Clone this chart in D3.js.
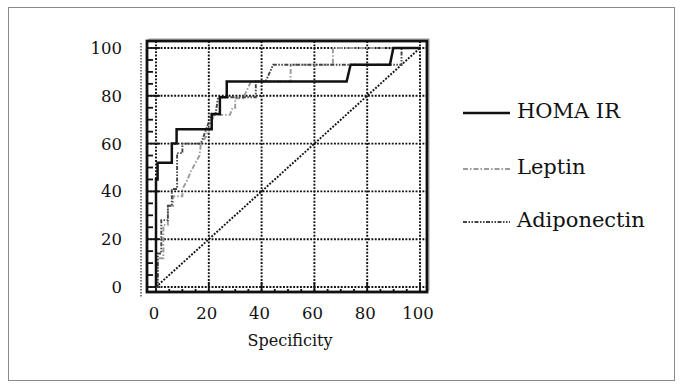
<!DOCTYPE html>
<html>
<head>
<meta charset="utf-8">
<script src="https://cdn.jsdelivr.net/npm/d3@7"></script>
<style>
  body { margin: 0; background: #fff; }
  text { font-family: "DejaVu Serif", "Liberation Serif", serif; fill: #111; }
</style>
</head>
<body>
<script>
// ROC curves, points are [100 - specificity axis value, sensitivity]
const homaIR = [[0,0],[0,45],[0.6,45],[0.6,52],[6,52],[6,60],[7.8,60],[7.8,66],[21.1,66],[21.1,72.4],
  [24.2,72.4],[24.2,79.4],[26.8,79.4],[26.8,86],[72.2,86],[73.7,93],[88.6,93],[89.9,100],[100,100]];
const leptin = [[0,0],[0.6,0],[0.6,12],[2.8,12],[2.8,26],[4.5,26],[4.5,34],[6.5,34],[6.5,38],[10,38],
  [10,41],[12,45],[13,48],[15,52],[16.5,55],[17,60],[19,63],[20,66],[21,69],[22,72],[28,72],[29,75],
  [30,75],[30,79],[33,79],[36,86],[51,86],[51,93],[67,93],[67,100],[100,100]];
const adiponectin = [[0,0],[0.7,0],[0.7,14],[2,14],[2,28],[4.5,28],[4.5,34],[6,34],[6,41],[8,41],
  [8,56],[10,56],[10,60],[17,60],[19,66],[21,72],[22.5,72],[23.5,79.4],[37.8,79.4],[37.8,86],
  [41.5,86],[44.4,93],[93,93],[93,100],[100,100]];

const seriesNames = ["HOMA IR", "Leptin", "Adiponectin"];
const xTicks = [0, 20, 40, 60, 80, 100];
const yTicks = [0, 20, 40, 60, 80, 100];
const minorTicks = d3.range(0, 101, 5);
const xTitle = "Specificity";

const width = 682, height = 387;

const svg = d3.select("body").append("svg")
  .attr("width", width)
  .attr("height", height);

// outer border
svg.append("rect")
  .attr("x", 8.5).attr("y", 7.5)
  .attr("width", 666).attr("height", 373)
  .attr("fill", "none")
  .attr("stroke", "#8a8a8a")
  .attr("stroke-width", 1);

let x = d3.scaleLinear().domain([0, 100]).range([156, 420]);
let y = d3.scaleLinear().domain([0, 100]).range([287, 48]);

let frame = { x0: x(0) - 9, x1: x(100) + 7, y0: y(100) - 7, y1: y(0) + 5 };

// frame shadow + dotted line at left
svg.append("rect")
  .attr("x", frame.x0 + 2).attr("y", frame.y0 - 2)
  .attr("width", frame.x1 - frame.x0).attr("height", frame.y1 - frame.y0)
  .attr("fill", "none")
  .attr("stroke", "#999")
  .attr("stroke-width", 1);

svg.append("line")
  .attr("x1", frame.x0 - 6).attr("x2", frame.x0 - 6)
  .attr("y1", frame.y0 + 2).attr("y2", frame.y1 + 5)
  .attr("stroke", "#555")
  .attr("stroke-width", 1.5)
  .attr("stroke-dasharray", "1.5,1.5");

svg.append("rect")
  .attr("x", frame.x0).attr("y", frame.y0)
  .attr("width", frame.x1 - frame.x0).attr("height", frame.y1 - frame.y0)
  .attr("fill", "#fff");

// dotted grid
const dotted = sel => sel
  .attr("stroke", "#111")
  .attr("stroke-width", 1.9)
  .attr("stroke-dasharray", "1.9,1.5")
  .attr("fill", "none");

svg.selectAll(".vgrid")
  .data(xTicks)
  .join("line")
  .attr("class", "vgrid")
  .attr("x1", d => x(d)).attr("x2", d => x(d))
  .attr("y1", frame.y0).attr("y2", frame.y1)
  .call(dotted);

svg.selectAll(".hgrid")
  .data(yTicks)
  .join("line")
  .attr("class", "hgrid")
  .attr("x1", frame.x0).attr("x2", frame.x1)
  .attr("y1", d => y(d)).attr("y2", d => y(d))
  .call(dotted);

// diagonal
svg.append("line")
  .attr("x1", x(0)).attr("y1", y(0))
  .attr("x2", x(100)).attr("y2", y(100))
  .call(dotted);

// ticks inside frame
svg.selectAll(".ytick")
  .data(minorTicks)
  .join("line")
  .attr("x1", frame.x0)
  .attr("x2", d => frame.x0 + (d % 20 === 0 ? 13 : 6))
  .attr("y1", d => y(d)).attr("y2", d => y(d))
  .attr("stroke", "#111")
  .attr("stroke-width", 1.8);

svg.selectAll(".xtick")
  .data(minorTicks)
  .join("line")
  .attr("x1", d => x(d)).attr("x2", d => x(d))
  .attr("y1", frame.y1)
  .attr("y2", d => frame.y1 - (d % 20 === 0 ? 10 : 3))
  .attr("stroke", "#111")
  .attr("stroke-width", 1.8);

// curves
let line = d3.line()
  .x(d => x(d[0]))
  .y(d => y(d[1]));

const styles = [
  { data: homaIR, color: "#111", width: 2.5, dash: null },
  { data: leptin, color: "#9a9a9a", width: 1.9, dash: "5,2,1.5,2" },
  { data: adiponectin, color: "#444", width: 1.9, dash: "4,1.5,1.5,1.5,1.5,1.5" }
];

svg.selectAll(".roc")
  .data([styles[1], styles[2], styles[0]])
  .join("path")
  .attr("class", "roc")
  .attr("d", d => line(d.data))
  .attr("fill", "none")
  .attr("stroke", d => d.color)
  .attr("stroke-width", d => d.width)
  .attr("stroke-dasharray", d => d.dash);

// frame border
svg.append("rect")
  .attr("x", frame.x0).attr("y", frame.y0)
  .attr("width", frame.x1 - frame.x0).attr("height", frame.y1 - frame.y0)
  .attr("fill", "none")
  .attr("stroke", "#111")
  .attr("stroke-width", 2.8);

// tick labels
svg.selectAll(".ylabel")
  .data(yTicks)
  .join("text")
  .attr("x", 122)
  .attr("y", d => y(d) + 6)
  .attr("text-anchor", "end")
  .style("font-size", "16.5px")
  .text(d => d);

svg.selectAll(".xlabel")
  .data(xTicks)
  .join("text")
  .attr("x", d => x(d) - 2)
  .attr("y", 319)
  .attr("text-anchor", "middle")
  .style("font-size", "16.5px")
  .text(d => d);

svg.append("text")
  .attr("x", 290)
  .attr("y", 346)
  .attr("text-anchor", "middle")
  .style("font-size", "16px")
  .text(xTitle);

// legend
const legendY = [118, 174, 227];
const legend = svg.selectAll(".legend")
  .data(styles)
  .join("g")
  .attr("class", "legend");

legend.append("line")
  .attr("x1", 463).attr("x2", 510)
  .attr("y1", (d, i) => legendY[i] - 5).attr("y2", (d, i) => legendY[i] - 5)
  .attr("stroke", d => d.color)
  .attr("stroke-width", d => d.width)
  .attr("stroke-dasharray", d => d.dash);

legend.append("text")
  .attr("x", 517)
  .attr("y", (d, i) => legendY[i])
  .style("font-size", "21px")
  .text((d, i) => seriesNames[i]);
</script>
</body>
</html>
